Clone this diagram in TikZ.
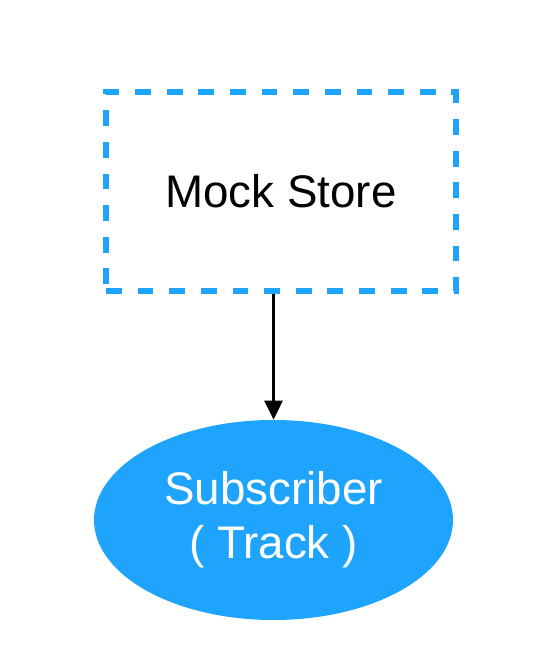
\documentclass[tikz,border=0pt]{standalone}
\usepackage{fontspec}
\setmainfont{Liberation Sans}
\usetikzlibrary{positioning, shapes.geometric, arrows.meta}
\definecolor{mockblue}{HTML}{1EA4FC}
\tikzstyle{store} = [rectangle, minimum width=7cm, minimum height=3.98cm, text centered, draw=mockblue, line width=3.4pt, dash pattern=on 9pt off 9pt, font=\fontsize{26}{31}\selectfont]
\tikzstyle{subscriber} = [ellipse, minimum width=7.18cm, minimum height=4cm, inner sep=0pt, align=center, fill=mockblue, text=white, font=\fontsize{26}{30.6}\selectfont]
\tikzstyle{arrow} = [line width=1.7pt, -{Triangle[length=0.38cm,width=0.36cm]}]

\begin{document}
\begin{tikzpicture}
	\useasboundingbox (0,0) rectangle (10.8,13.4);

	\node (mockstore) [store] at (5.62,9.57) {Mock Store};
	\node (track) [subscriber] at (5.47,3.0) {Subscriber\\( Track )};

	\draw [arrow] (track.north |- mockstore.south) -- (track);

\end{tikzpicture}
\end{document}
